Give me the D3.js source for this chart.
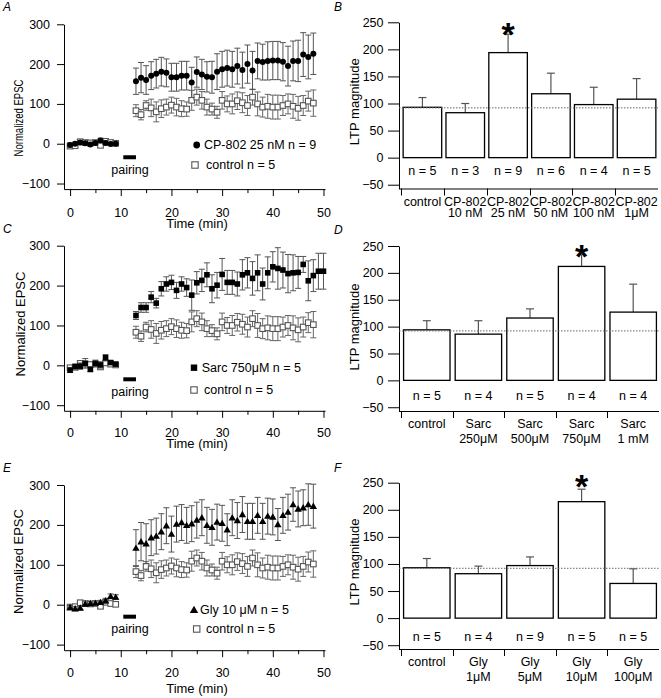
<!DOCTYPE html>
<html><head><meta charset="utf-8">
<script src="https://cdn.jsdelivr.net/npm/d3@7"></script>
<style>
body{margin:0;background:#fff}
svg{display:block}
text{font-family:"Liberation Sans",Arial,Helvetica,sans-serif;fill:#000}
</style>
</head><body>
<svg id="fig" width="661" height="698"></svg>
<script>
// ---------------- DATA ----------------
const timeBase = [0,1,2,3,4,5,6,7,8,9];
const timePost = [13,14,15,16,17,18,19,20,21,22,23,24,25,26,27,28,29,30,31,32,33,34,35,36,37,38,39,40,41,42,43,44,45,46,47,48];
const timePostSarc = [13,14,15,16,17,18,19,20,21,22,23,24,25,26,27,28,29,30,31,32,33,34,35,36,37,38,39,40,41,42,43,44,45,46,47,48,49,50];

const controlBase = [-6,-5,5,3,2,3,-4,6,3,1];
const controlBaseErr = [4,4,5,5,4,4,5,5,4,4];
const controlPost = [83,73,96,90,80,88,92,97,92,88,87,109,117,109,92,87,79,109,100,100,108,103,96,117,100,92,94,92,92,96,100,94,89,96,107,102];
const controlPostErr = [15,13,12,22,25,22,20,20,22,20,18,25,20,22,20,15,15,22,20,25,22,25,25,20,30,25,30,30,30,25,25,30,30,25,25,33];

const cpBase = [-3,0,3,1,-2,2,8,2,-1,0];
const cpBaseErr = [5,4,5,5,4,5,6,5,4,4];
const cpPost = [157,166,160,171,176,181,178,167,167,171,171,154,180,174,168,167,181,187,190,187,195,185,200,184,208,205,208,209,209,206,195,208,208,224,218,226];
const cpPostErr = [33,38,36,35,36,36,35,35,35,36,36,38,38,38,38,40,45,45,45,45,45,45,48,48,45,45,48,48,48,48,50,50,52,55,55,52];

const sarcBase = [-12,-3,-2,5,-10,5,1,19,7,3];
const sarcBaseErr = [6,6,8,12,6,8,8,8,5,4];
const sarcPost = [125,145,145,171,156,192,204,208,188,204,195,176,207,213,227,192,201,228,208,208,204,227,232,218,232,204,232,247,243,239,230,232,233,253,212,225,236,236];
const sarcPostErr = [10,12,12,14,12,18,18,18,20,18,22,38,28,28,30,35,32,40,30,30,30,38,38,42,45,40,40,38,52,45,48,45,40,20,50,40,45,45];

const glyBase = [-7,-10,-8,2,3,4,6,10,21,19];
const glyBaseErr = [5,5,5,5,5,5,5,6,6,6];
const glyPost = [142,158,153,168,172,183,198,177,202,206,199,203,212,218,199,194,207,204,188,218,211,226,209,209,224,209,222,220,201,224,232,251,240,243,251,247];
const glyPostErr = [46,48,50,45,45,45,45,45,45,45,45,45,45,45,45,45,45,45,40,45,45,45,45,45,45,45,45,45,40,45,45,42,45,45,52,55];

const timeYTicks = [-100,0,100,200,300];
const timeXTicks = [0,10,20,30,40,50];
const timeXMinor = [5,15,25,35,45];
const pairingStart = 10.5, pairingEnd = 13;

// Bar charts
const barYTicks = [-50,0,50,100,150,200,250];
const refLine = 92;

const cpCats = [["control"],["CP-802","10 nM"],["CP-802","25 nM"],["CP-802","50 nM"],["CP-802","100 nM"],["CP-802","1\u03BCM"]];
const cpMeans = [93,83,194,118,98,108];
const cpErrs = [18,17,34,38,32,38];
const cpN = ["n = 5","n = 3","n = 9","n = 6","n = 4","n = 5"];

const sarcCats = [["control"],["Sarc","250\u03BCM"],["Sarc","500\u03BCM"],["Sarc","750\u03BCM"],["Sarc","1 mM"]];
const sarcMeans = [94,86,116,212,127];
const sarcErrs = [17,25,17,22,52];
const sarcN = ["n = 5","n = 4","n = 5","n = 4","n = 4"];

const glyCats = [["control"],["Gly","1\u03BCM"],["Gly","5\u03BCM"],["Gly","10\u03BCM"],["Gly","100\u03BCM"]];
const glyMeans = [93,82,97,215,64];
const glyErrs = [17,14,16,23,27];
const glyN = ["n = 5","n = 4","n = 9","n = 5","n = 5"];

// ---------------- DRAW ----------------
const svg = d3.select("#fig");
const FS = 12.5;

function styleAxis(sel){
  sel.selectAll("path,line").attr("stroke","#000").attr("stroke-width",1);
  sel.selectAll("text").attr("font-size",FS).attr("font-family",'"Liberation Sans",Arial,sans-serif').attr("fill","#000");
}

function marker(g, kind, cx, cy, s){
  if(kind==="circle"){
    g.append("circle").attr("cx",cx).attr("cy",cy).attr("r",s/2).attr("fill","#000");
  } else if(kind==="square"){
    g.append("rect").attr("x",cx-s/2).attr("y",cy-s/2).attr("width",s).attr("height",s).attr("fill","#000");
  } else if(kind==="open"){
    g.append("rect").attr("x",cx-s/2).attr("y",cy-s/2).attr("width",s).attr("height",s)
      .attr("fill","#fff").attr("stroke","#555").attr("stroke-width",1.1);
  } else if(kind==="triangle"){
    g.append("path").attr("transform",`translate(${cx},${cy+0.6})`)
      .attr("d", d3.symbol(d3.symbolTriangle).size(s*s*0.75)()).attr("fill","#000");
  }
}

function drawSeries(g, x, y, ts, vs, es, kind, color){
  const pts = d3.zip(ts, vs, es);
  const eg = g.append("g").attr("stroke",color).attr("stroke-width",1).attr("fill","none");
  pts.forEach(([t,v,e])=>{
    const cx = x(t);
    eg.append("line").attr("x1",cx).attr("x2",cx).attr("y1",y(v-e)).attr("y2",y(v+e));
    eg.append("line").attr("x1",cx-3).attr("x2",cx+3).attr("y1",y(v-e)).attr("y2",y(v-e));
    eg.append("line").attr("x1",cx-3).attr("x2",cx+3).attr("y1",y(v+e)).attr("y2",y(v+e));
  });
  const mg = g.append("g");
  pts.forEach(([t,v])=> marker(mg, kind, x(t), y(v), kind==="circle"?6:5.6));
}

function timePanel(o){
  const g = svg.append("g");
  const x = d3.scaleLinear().domain([-1.2, 50.3]).range([64, 325]);
  const y = d3.scaleLinear().domain([-114, 300]).range([o.bottom, o.top]);

  const ya = g.append("g").attr("transform","translate(64,0)")
    .call(d3.axisLeft(y).tickValues(timeYTicks).tickSize(7).tickPadding(7).tickSizeOuter(0));
  styleAxis(ya);

  const xa = g.append("g").attr("transform",`translate(0,${o.bottom})`)
    .call(d3.axisBottom(x).tickValues(timeXTicks).tickSize(7).tickPadding(o.xpad).tickSizeOuter(0));
  styleAxis(xa);
  const xm = g.append("g").attr("transform",`translate(0,${o.bottom})`)
    .call(d3.axisBottom(x).tickValues(timeXMinor).tickSize(4).tickFormat(""));
  xm.select(".domain").remove();
  styleAxis(xm);

  g.append("text").attr("x",197).attr("y",o.timeY).attr("text-anchor","middle")
    .attr("font-size",13).text("Time (min)");

  const yt = g.append("text").attr("transform",`translate(${o.ytx},${o.yty}) rotate(-90)`)
    .attr("text-anchor","middle").attr("font-size",13).text("Normalized EPSC");
  if(o.ylen) yt.attr("textLength",o.ylen).attr("lengthAdjust","spacingAndGlyphs");

  // pairing bar
  g.append("line").attr("x1",x(pairingStart)).attr("x2",x(pairingEnd))
    .attr("y1",y(o.pairV)).attr("y2",y(o.pairV)).attr("stroke","#000").attr("stroke-width",4);
  g.append("text").attr("x",130).attr("y",o.pairTextY).attr("text-anchor","middle")
    .attr("font-size",FS).text("pairing");

  // series: control then treatment
  drawSeries(g, x, y, timeBase.concat(timePost), controlBase.concat(controlPost), controlBaseErr.concat(controlPostErr), "open", "#666");
  drawSeries(g, x, y, timeBase.concat(o.tPost), o.base.concat(o.post), o.baseErr.concat(o.postErr), o.kind, "#555");

  // legend
  const lg = g.append("g");
  marker(lg, o.kind, o.leg1[0], o.leg1[1], o.kind==="circle"?6.8:6.4);
  lg.append("text").attr("x",o.leg1[2]).attr("y",o.leg1[1]+4.4).attr("font-size",FS).text(o.label);
  marker(lg, "open", o.leg2[0], o.leg2[1], 6.4);
  lg.append("text").attr("x",o.leg2[2]).attr("y",o.leg2[1]+4.4).attr("font-size",FS).text("control n = 5");

  g.append("text").attr("x",3).attr("y",o.letterY).attr("font-size",12).attr("font-style","italic").text(o.letter);
}

function barPanel(o){
  const g = svg.append("g");
  const y = d3.scaleLinear().domain([-57, 250]).range([o.bottom, o.top]);
  const x = d3.scaleBand().domain(d3.range(o.cats.length)).range([401, o.right]).paddingInner(0.1).paddingOuter(0.05);
  const step = x.step();
  const x0 = 401;

  const ya = g.append("g").attr("transform","translate(399,0)")
    .call(d3.axisLeft(y).tickValues(barYTicks).tickSize(11).tickPadding(4.5).tickSizeOuter(0));
  styleAxis(ya);

  // x axis line + separators
  g.append("line").attr("x1",399).attr("x2",o.right).attr("y1",o.bottom+0.5).attr("y2",o.bottom+0.5)
    .attr("stroke","#000").attr("stroke-width",1);
  o.cats.forEach((c,i)=>{
    const sx = Math.round(x0 + i*step)+0.5;
    g.append("line").attr("x1",sx).attr("x2",sx).attr("y1",o.bottom).attr("y2",o.bottom+7)
      .attr("stroke","#000").attr("stroke-width",1);
  });

  // bars
  o.means.forEach((m,i)=>{
    const bx = x(i), bw = x.bandwidth(), cx = bx + bw/2;
    g.append("line").attr("x1",cx).attr("x2",cx).attr("y1",y(m)).attr("y2",y(m+o.errs[i]))
      .attr("stroke","#555").attr("stroke-width",1.2);
    g.append("line").attr("x1",cx-4).attr("x2",cx+4).attr("y1",y(m+o.errs[i])).attr("y2",y(m+o.errs[i]))
      .attr("stroke","#555").attr("stroke-width",1.2);
    g.append("rect").attr("x",bx).attr("y",y(m)).attr("width",bw).attr("height",y(0)-y(m))
      .attr("fill","#fff").attr("stroke","#000").attr("stroke-width",1.3);
    g.append("text").attr("x",cx).attr("y",o.nY).attr("text-anchor","middle").attr("font-size",FS).text(o.ns[i]);
    const lab = o.cats[i];
    g.append("text").attr("x",cx).attr("y",o.l1Y).attr("text-anchor","middle").attr("font-size",FS).text(lab[0]);
    if(lab[1]) g.append("text").attr("x",cx).attr("y",o.l2Y).attr("text-anchor","middle").attr("font-size",FS).text(lab[1]);
  });

  // reference dotted line
  g.append("line").attr("x1",399).attr("x2",o.right).attr("y1",y(refLine)).attr("y2",y(refLine))
    .attr("stroke","#666").attr("stroke-width",1).attr("stroke-dasharray","1.5,1.5");

  // star
  const si = o.star, scx = x(si) + x.bandwidth()/2;
  g.append("text").attr("x",scx).attr("y",o.starY+19).attr("text-anchor","middle")
    .attr("font-size",34).attr("font-weight","bold").text("*");

  g.append("text").attr("transform",`translate(359,${o.ytY}) rotate(-90)`)
    .attr("text-anchor","middle").attr("font-size",13).text("LTP magnitude");

  g.append("text").attr("x",334).attr("y",o.letterY).attr("font-size",12).attr("font-style","italic").text(o.letter);
}

timePanel({letter:"A", letterY:11, top:24.3, bottom:189.1, xpad:12, timeY:228, ytx:23, yty:118, ylen:77,
  pairV:-34, pairTextY:174, tPost:timePost, base:cpBase, baseErr:cpBaseErr, post:cpPost, postErr:cpPostErr,
  kind:"circle", label:"CP-802 25 nM n = 9", leg1:[196.7,145,204], leg2:[195,165,206]});
timePanel({letter:"C", letterY:233, top:245.7, bottom:410.8, xpad:10.5, timeY:447.5, ytx:24.5, yty:324,
  pairV:-35, pairTextY:395.7, tPost:timePostSarc, base:sarcBase, baseErr:sarcBaseErr, post:sarcPost, postErr:sarcPostErr,
  kind:"square", label:"Sarc 750\u03BCM n = 5", leg1:[194,367.7,201.7], leg2:[194,390,204]});
timePanel({letter:"E", letterY:472, top:485, bottom:650.2, xpad:11, timeY:693, ytx:23, yty:561.5,
  pairV:-30, pairTextY:633.3, tPost:timePost, base:glyBase, baseErr:glyBaseErr, post:glyPost, postErr:glyPostErr,
  kind:"triangle", label:"Gly 10 \u03BCM n = 5", leg1:[194,610,200], leg2:[196.7,629,206]});

barPanel({letter:"B", letterY:11, top:22.3, bottom:188.5, right:658, cats:cpCats, means:cpMeans, errs:cpErrs, ns:cpN,
  nY:175, l1Y:205.5, l2Y:216.8, star:2, starY:26.7, ytY:101.7});
barPanel({letter:"D", letterY:234, top:246, bottom:411, right:659, cats:sarcCats, means:sarcMeans, errs:sarcErrs, ns:sarcN,
  nY:399.5, l1Y:427.8, l2Y:442.8, star:3, starY:249, ytY:327});
barPanel({letter:"F", letterY:472, top:482.7, bottom:649, right:659, cats:glyCats, means:glyMeans, errs:glyErrs, ns:glyN,
  nY:641, l1Y:665.5, l2Y:681, star:3, starY:479.3, ytY:562});
</script>
</body></html>
